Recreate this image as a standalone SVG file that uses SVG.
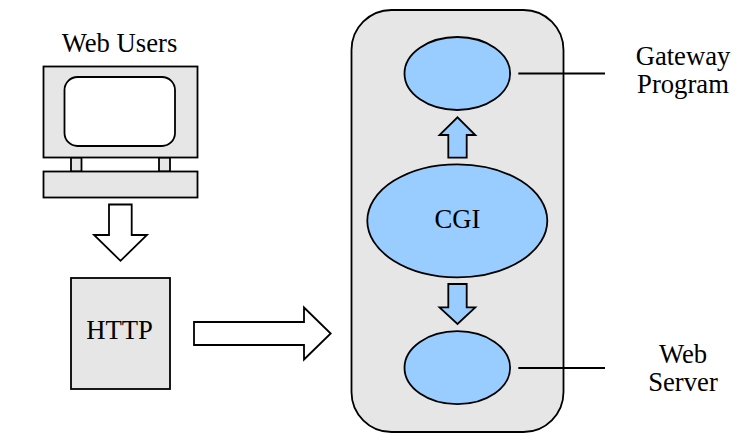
<svg xmlns="http://www.w3.org/2000/svg" width="750" height="445" viewBox="0 0 750 445">
<style>
.s{stroke:#000;stroke-width:1.800;stroke-linejoin:miter}
.g{fill:#e6e6e6}
.b{fill:#99ccff}
.w{fill:#fff}
.n{fill:none}
text{font-family:"Liberation Serif","Times New Roman",serif;font-size:26.670px;fill:#000;text-anchor:middle}
</style>
<rect width="750" height="445" fill="#fff"/>
<g id="web-users">
<rect class="s g" x="71" y="157.500" width="10.500" height="14"/>
<rect class="s g" x="159" y="157.500" width="11" height="14"/>
<rect class="s g" x="43.500" y="66.500" width="154" height="91"/>
<rect class="s w" x="64.500" y="77" width="110.500" height="69" rx="13" ry="13"/>
<rect class="s g" x="43.500" y="171.500" width="154" height="26"/>
<text x="119.500" y="52">Web Users</text>
</g>
<g id="http">
<rect class="s g" x="71" y="278" width="99" height="111"/>
<text x="119.500" y="339">HTTP</text>
</g>
<g id="cgi-container">
<rect class="s g" x="351.500" y="10" width="212" height="422" rx="40" ry="40"/>
</g>
<g id="gateway-ellipse">
<ellipse class="s b" cx="457.300" cy="73.500" rx="52.800" ry="36.500"/>
</g>
<g id="cgi">
<ellipse class="s b" cx="457.300" cy="220.800" rx="90" ry="56.500"/>
<text x="457.500" y="228">CGI</text>
</g>
<g id="server-ellipse">
<ellipse class="s b" cx="457.300" cy="367.700" rx="52.800" ry="36.500"/>
</g>
<g id="gateway-label">
<text x="683" y="65">Gateway<tspan x="683" dy="27.700">Program</tspan></text>
</g>
<g id="server-label">
<text x="683" y="363">Web<tspan x="683" dy="27.700">Server</tspan></text>
</g>
<g id="connectors">
<polygon class="s w" points="109,204.500 131.700,204.500 131.700,235 147,235 120.500,260.800 94,235 109,235"/>
<polygon class="s w" points="194,322 304,322 304,307.500 330.700,333.500 304,359.500 304,345 194,345"/>
<polygon class="s b" points="448.300,157.700 466.700,157.700 466.700,135 475.300,135 457.500,117.300 439.500,135 448.300,135"/>
<polygon class="s b" points="448.300,284 466.700,284 466.700,307.300 475.300,307.300 457.500,324 439.500,307.300 448.300,307.300"/>
<line class="s n" x1="518.300" y1="73.500" x2="605" y2="73.500"/>
<line class="s n" x1="518.300" y1="368" x2="605" y2="368"/>
</g>
</svg>
